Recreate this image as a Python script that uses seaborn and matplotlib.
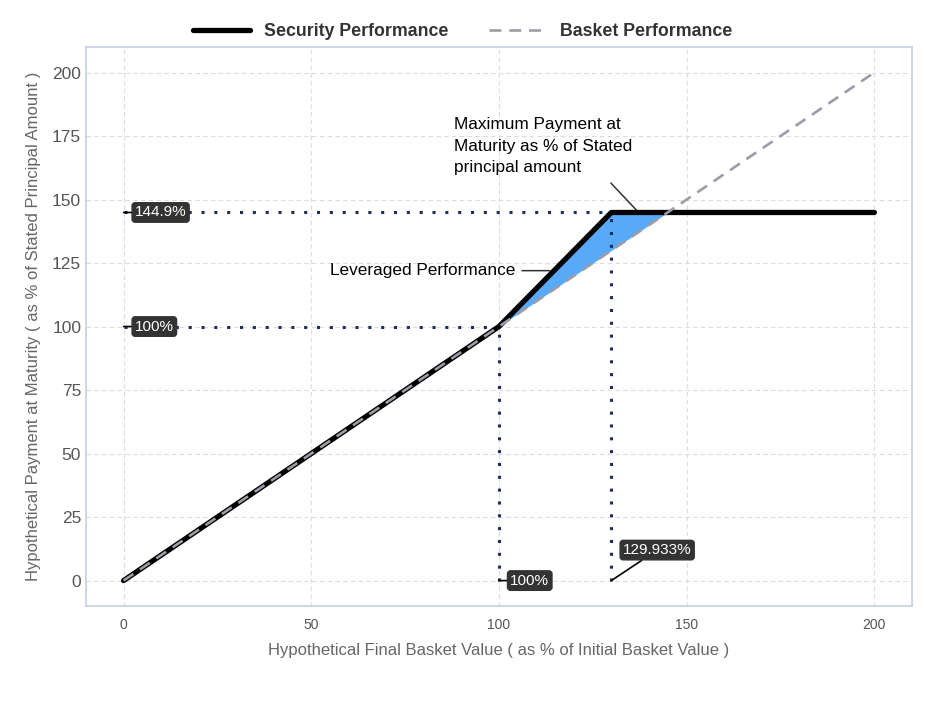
import numpy as np
import matplotlib.pyplot as plt
import seaborn as sns
import pandas as pd

# data
basket_x = [0, 100, 129.933, 144.9, 200]
security_y = [0, 100, 144.9, 144.9, 144.9]
basket_y = [0, 100, 129.933, 144.9, 200]
cap_level = 144.9
cap_x = 129.933
par = 100
legend_labels = ["Security Performance", "Basket Performance"]

sns.set_theme(style="whitegrid")
plt.rcParams['font.family'] = ['Liberation Sans', 'DejaVu Sans']

df = pd.DataFrame({"x": basket_x, "security": security_y, "basket": basket_y})

fig = plt.figure(figsize=(9.38, 7.03), dpi=100)
ax = fig.add_axes([0.0917, 0.138, 0.8805, 0.795])

# shaded leverage area
mask = (df["x"] >= par) & (df["x"] <= cap_level)
ax.fill_between(df["x"][mask], df["basket"][mask], df["security"][mask],
                color="#58aaf9", zorder=2, linewidth=0)

# dotted guides
dot = dict(color="#1f2d5a", linestyle=(0, (1, 3.2)), linewidth=2.2, zorder=3)
ax.plot([0, cap_x], [cap_level, cap_level], **dot)
ax.plot([0, par], [par, par], **dot)
ax.plot([par, par], [0, par], **dot)
ax.plot([cap_x, cap_x], [0, cap_level], **dot)

sns.lineplot(data=df, x="x", y="security", color="black", linewidth=3.8,
             ax=ax, label=legend_labels[0], zorder=4)
sns.lineplot(data=df, x="x", y="basket", color="#9c9ca8", linewidth=1.9,
             linestyle=(0, (4.5, 3)), ax=ax, label=legend_labels[1], zorder=5)

# value labels
box = dict(boxstyle="round,pad=0.18,rounding_size=0.2", fc="#333333", ec="#333333")
lab = dict(color="white", fontsize=11, va="center", bbox=box, zorder=6)
seg = dict(arrowstyle="-", color="black", lw=1.2, shrinkA=0, shrinkB=0)
ax.annotate(f"{cap_level}%", xy=(0, cap_level), xytext=(3, cap_level), arrowprops=seg, **lab)
ax.annotate(f"{par}%", xy=(0, par), xytext=(3, par), arrowprops=seg, **lab)
ax.annotate(f"{par}%", xy=(par, 0), xytext=(103, 0), arrowprops=seg, **lab)
ax.annotate(f"{cap_x}%", xy=(cap_x, 0), xytext=(133, 12), arrowprops=seg, **lab)

# callouts
ax.text(88, 182.5, "Maximum Payment at\nMaturity as % of Stated\nprincipal amount",
        fontsize=12.4, color="black", ha="left", va="top", linespacing=1.55)
ax.annotate("", xy=(136.7, cap_level + 0.8), xytext=(129.8, 156.5),
            arrowprops=dict(arrowstyle="-", color="#333333", lw=1.1, shrinkA=0, shrinkB=0))
ax.annotate("Leveraged Performance", xy=(113.5, 122), xytext=(104.5, 122),
            fontsize=12.4, color="black", ha="right", va="center",
            arrowprops=dict(arrowstyle="-", color="#333333", lw=1.1, shrinkA=2, shrinkB=0,
                            relpos=(1.0, 0.5)))

ax.set_xlim(-10, 210)
ax.set_ylim(-10, 210)
ax.set_xticks([0, 50, 100, 150, 200])
ax.set_yticks([0, 25, 50, 75, 100, 125, 150, 175, 200])
ax.grid(True, color="#dcdcdc", linestyle=(0, (4, 3)), linewidth=0.8)
for s in ax.spines.values():
    s.set_color("#c5cfe3")
    s.set_linewidth(1.2)
ax.tick_params(axis="x", colors="#c5cfe3", length=5, width=1, labelcolor="#555555", labelsize=10)
ax.tick_params(axis="y", length=0, labelcolor="#555555", labelsize=12.5)
ax.set_xlabel("Hypothetical Final Basket Value ( as % of Initial Basket Value )",
              fontsize=12, color="#666666", labelpad=8)
ax.set_ylabel("Hypothetical Payment at Maturity ( as % of Stated Principal Amount )",
              fontsize=12, color="#666666", labelpad=8)

leg = ax.legend(loc="lower center", bbox_to_anchor=(0.456, 0.996), ncol=2, frameon=False,
                prop=dict(weight="bold", size=12.8), handlelength=3.2, columnspacing=2.3,
                borderaxespad=0.1)
for t in leg.get_texts():
    t.set_color("#333333")

plt.savefig("out.png", dpi=100)
